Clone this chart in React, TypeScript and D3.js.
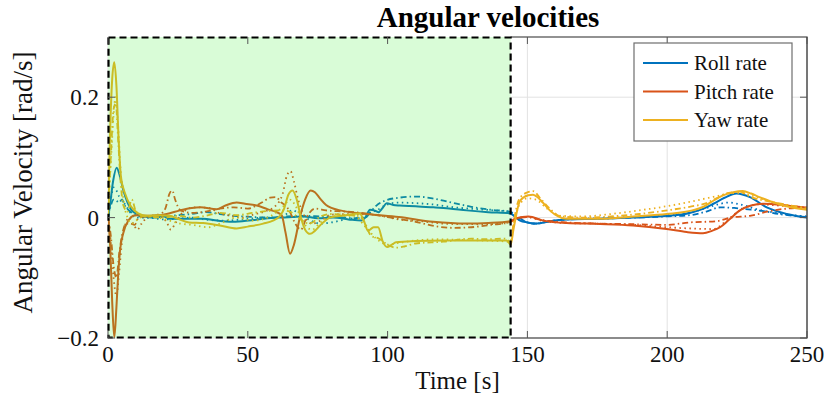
import React, { useEffect, useRef } from "react";
import * as d3 from "d3";

type Pt = [number, number];

const title = "Angular velocities";
const xAxisLabel = "Time [s]";
const yAxisLabel = "Angular Velocity [rad/s]";
const xTicks = [0, 50, 100, 150, 200, 250];
const yTicks = [-0.2, 0, 0.2];
const legendLabels = ["Roll rate", "Pitch rate", "Yaw rate"];
const shadedUntil = 144;

// roll rate, three runs
const rollSolid: Pt[] = [
  [0, 0.0], [0.7, 0.02], [1.8, 0.06], [3.1, 0.083], [4.3, 0.068], [5.5, 0.045], [7, 0.025], [8.5, 0.012],
  [10.8, 0.005], [14, 0.001], [17, 0.0], [20, 0.002], [22, -0.002], [28, -0.002], [34, -0.002], [39, -0.005],
  [43.6, -0.007], [48, -0.006], [52, -0.004], [57, -0.001], [61.5, 0.0], [66, 0.001], [70, 0.002], [75, -0.001],
  [80.5, 0.0], [86, -0.003], [90.7, -0.005], [92, 0.0], [93.7, 0.013], [95.2, 0.012], [96.7, 0.009], [98.2, 0.016],
  [99.7, 0.024], [102, 0.021], [104.4, 0.02], [110, 0.019], [116.4, 0.017], [122, 0.015], [128.3, 0.012],
  [136, 0.009], [143.8, 0.007], [145.5, 0.002], [147.4, -0.005], [150, -0.008], [153.3, -0.01], [158, -0.006],
  [164, -0.003], [176, -0.002], [188, 0.0], [200, 0.003], [205, 0.005], [209, 0.009], [213, 0.015],
  [216.5, 0.023], [220.5, 0.033], [224.8, 0.04], [229.6, 0.034], [235.6, 0.017], [242.8, 0.006], [250, 0.0],
];
const rollDashed: Pt[] = [
  [0, 0.0], [1, 0.02], [2, 0.03], [3, 0.028], [4, 0.025], [5, 0.03], [6, 0.02], [8, 0.01], [10, 0.004],
  [14, 0.0], [20, 0.002], [25, 0.004], [30, 0.006], [35, 0.009], [40, 0.006], [45, 0.003], [52, 0.001],
  [58, 0.0], [64, 0.002], [70, 0.003], [76, 0.002], [82, 0.001], [88, -0.001], [92, 0.0], [94, 0.01],
  [96, 0.02], [99, 0.028], [104, 0.033], [110, 0.035], [116, 0.032], [122, 0.026], [130, 0.018], [137, 0.013],
  [143.5, 0.01], [147, 0.0], [150, -0.008], [153, -0.01], [158, -0.006], [164, -0.003], [176, -0.002],
  [188, 0.0], [200, 0.002], [208, 0.004], [214, 0.01], [219, 0.017], [224, 0.016], [228, 0.014], [234, 0.011],
  [240, 0.006], [245, 0.003], [250, 0.001],
];
const rollDotted: Pt[] = [
  [0, 0.0], [1, 0.03], [2, 0.05], [3, 0.045], [4, 0.035], [5, 0.03], [7, 0.015], [10, 0.0], [14, 0.0],
  [20, -0.003], [25, -0.002], [30, 0.0], [36, -0.004], [42, -0.005], [48, -0.003], [55, 0.0], [62, 0.001],
  [66, 0.012], [68, 0.008], [70, 0.002], [76, -0.01], [80, -0.008], [86, -0.002], [92, 0.0], [94, 0.008],
  [96, 0.012], [100, 0.022], [104, 0.025], [110, 0.024], [116, 0.022], [124, 0.017], [132, 0.014], [138, 0.012],
  [143.5, 0.01], [147, 0.0], [150, -0.008], [153, -0.01], [158, -0.006], [164, -0.003], [176, -0.001],
  [188, 0.001], [200, 0.004], [208, 0.008], [214, 0.016], [219, 0.023], [222, 0.025], [226, 0.022],
  [232, 0.014], [240, 0.007], [250, 0.002],
];

// pitch rate, three runs
const pitchSolid: Pt[] = [
  [0, 0.005], [0.8, -0.05], [1.5, -0.14], [2.25, -0.199], [3, -0.15], [3.7, -0.09], [4.3, -0.055], [5.5, -0.025],
  [7.3, -0.005], [9, 0.003], [10.3, 0.004], [14, 0.003], [18, 0.004], [21, 0.006], [25.7, 0.012], [30, 0.016],
  [33, 0.017], [38.9, 0.014], [42, 0.02], [46, 0.025], [49, 0.023], [53.2, 0.02], [57, 0.014], [60.3, 0.009],
  [62.1, 0.004], [63.5, -0.025], [65.1, -0.06], [66.5, -0.045], [68.7, 0.002], [70.5, 0.03], [72.5, 0.045],
  [74, 0.042], [75.8, 0.032], [78, 0.021], [83, 0.012], [92.5, 0.006], [104, 0.001], [116.3, -0.007],
  [128.3, -0.01], [136, -0.009], [143.8, -0.006], [146, -0.001], [150.4, 0.002], [155.7, -0.005], [164, -0.009],
  [176, -0.0105], [187.8, -0.013], [199.8, -0.019], [207, -0.024], [212.8, -0.026], [216, -0.022],
  [218.9, -0.016], [222, -0.004], [226, 0.012], [230, 0.02], [234.3, 0.023], [242.8, 0.02], [250, 0.016],
];
const pitchDashed: Pt[] = [
  [0, 0.0], [1, -0.03], [2, -0.08], [3, -0.1], [4, -0.06], [5, -0.03], [6.5, -0.01], [8, -0.01], [9.5, -0.012],
  [11, 0.0], [14, 0.002], [18, 0.004], [20.5, 0.015], [22, 0.04], [23, 0.045], [24, 0.03], [26, 0.012],
  [30, 0.008], [35, 0.01], [40, 0.015], [45, 0.017], [50, 0.015], [55, 0.025], [58, 0.033], [60, 0.034],
  [62, 0.025], [63.5, 0.02], [65, 0.01], [67, -0.01], [69, -0.02], [71, 0.0], [74, 0.015], [78, 0.012],
  [85, 0.01], [92, 0.007], [100, 0.001], [110, -0.007], [118, -0.015], [124, -0.017], [130, -0.016],
  [137, -0.012], [143.5, -0.008], [146, -0.002], [150, 0.001], [155, -0.004], [164, -0.008], [176, -0.01],
  [188, -0.011], [200, -0.012], [208, -0.008], [217.7, -0.006], [222.6, 0.0], [229.6, 0.003], [238, 0.012],
  [250, 0.017],
];
const pitchDotted: Pt[] = [
  [0, 0.0], [1, -0.04], [2, -0.1], [3, -0.13], [4, -0.09], [5, -0.04], [6, -0.015], [7.5, 0.0], [9, -0.01],
  [10.5, -0.02], [12, -0.01], [14, 0.0], [18, 0.005], [21, -0.008], [22.5, -0.02], [24, -0.01], [27, 0.01],
  [31, 0.017], [36, 0.016], [40, 0.007], [44, 0.003], [48, 0.0], [52, 0.005], [56, 0.01], [60, 0.02],
  [62.5, 0.04], [64, 0.07], [65.3, 0.077], [66.5, 0.06], [68, 0.03], [70, 0.005], [73, -0.01], [76, -0.005],
  [80, 0.005], [88, 0.006], [95, 0.005], [104, -0.003], [112, -0.006], [120, -0.01], [128, -0.011],
  [136, -0.011], [143.5, -0.008], [146, -0.001], [150, 0.001], [155, -0.005], [164, -0.009], [176, -0.01],
  [188, -0.012], [200, -0.016], [208, -0.018], [216.5, -0.019], [221, -0.006], [226, 0.012], [233, 0.022],
  [240, 0.02], [250, 0.017],
];

// yaw rate, three runs
const yawSolid: Pt[] = [
  [0, 0.0], [0.8, 0.15], [1.5, 0.23], [2.25, 0.258], [3, 0.22], [3.8, 0.13], [4.65, 0.067], [6.1, 0.04],
  [8, 0.02], [10.8, 0.007], [14, 0.003], [18, 0.004], [22, 0.003], [25, -0.002], [29, -0.008], [34, -0.009],
  [40, -0.013], [46, -0.018], [50, -0.015], [55.5, -0.01], [59, -0.005], [61.5, 0.003], [63, 0.015],
  [64.5, 0.038], [66, 0.045], [67.5, 0.03], [69, 0.0], [70.5, -0.02], [72.3, -0.027], [74, -0.022],
  [76.5, -0.01], [79.4, 0.0], [85, 0.004], [90, 0.007], [91.5, -0.005], [93, -0.022], [95, -0.016],
  [96.6, -0.016], [98.3, -0.04], [99.8, -0.049], [101.5, -0.045], [103, -0.041], [110, -0.039], [120, -0.038],
  [130, -0.038], [138, -0.038], [142.6, -0.038], [144, -0.045], [145, -0.02], [147.4, 0.028], [150.3, 0.037],
  [152, 0.038], [153.3, 0.035], [155.5, 0.025], [158, 0.012], [161, 0.002], [164, -0.002], [176, -0.002],
  [187.8, 0.002], [199.8, 0.006], [209, 0.012], [213, 0.018], [216.5, 0.028], [220, 0.037], [223.6, 0.042],
  [227, 0.044], [230, 0.04], [233, 0.034], [237, 0.027], [241.5, 0.02], [250, 0.013],
];
const yawDashed: Pt[] = [
  [0, 0.0], [1, 0.1], [2, 0.18], [2.8, 0.19], [3.5, 0.14], [4.5, 0.06], [5.5, 0.02], [7, 0.01], [8.5, 0.03],
  [10, 0.01], [12, 0.003], [14, 0.002], [20, 0.0], [25, 0.003], [30, 0.0], [35, 0.003], [40, 0.008], [46, 0.004],
  [52, 0.008], [57, 0.011], [62, 0.012], [65, 0.01], [68, 0.0], [72, -0.01], [76, 0.002], [80, 0.006],
  [86, 0.004], [90, 0.002], [92, -0.01], [94, -0.03], [97, -0.035], [100, -0.045], [103, -0.05], [106, -0.048],
  [110, -0.043], [120, -0.04], [130, -0.035], [136, -0.036], [142, -0.035], [144, -0.04], [145, -0.01],
  [147, 0.03], [150, 0.042], [152, 0.044], [155, 0.03], [158, 0.015], [162, 0.002], [170, 0.0], [180, 0.002],
  [190, 0.006], [200, 0.012], [208, 0.018], [214, 0.024], [218, 0.033], [222, 0.041], [226, 0.043],
  [230, 0.034], [235, 0.028], [242, 0.022], [250, 0.015],
];
const yawDotted: Pt[] = [
  [0, 0.0], [1, 0.09], [2, 0.17], [2.7, 0.2], [3.5, 0.16], [4.5, 0.08], [5.5, 0.03], [7, 0.0], [8.5, -0.01],
  [10, -0.005], [13, 0.002], [18, 0.0], [22, -0.005], [26, -0.01], [30, -0.012], [36, -0.016], [40, -0.01],
  [46, 0.0], [52, -0.005], [56, -0.002], [60, 0.008], [63, 0.02], [65, 0.03], [67, 0.02], [69, 0.0],
  [71, -0.015], [73, -0.02], [76, -0.008], [80, 0.002], [88, 0.003], [92, -0.015], [96, -0.035], [100, -0.045],
  [104, -0.042], [110, -0.038], [118, -0.036], [126, -0.037], [134, -0.038], [140, -0.039], [144, -0.04],
  [145, -0.015], [147, 0.02], [150, 0.032], [153, 0.03], [157, 0.015], [162, 0.003], [170, 0.002],
  [180, 0.006], [190, 0.012], [200, 0.019], [208, 0.026], [214, 0.032], [218, 0.036], [222, 0.04],
  [226, 0.041], [230, 0.037], [236, 0.028], [244, 0.02], [250, 0.016],
];

const colors = ["#0072BD", "#D95319", "#EDB120"];
const channels: Pt[][][] = [
  [rollSolid, rollDashed, rollDotted],
  [pitchSolid, pitchDashed, pitchDotted],
  [yawSolid, yawDashed, yawDotted],
];
const dashes = [null, "6,3,1.5,3", "1.5,3.5"];

const App = () => {
  const svgRef = useRef<SVGSVGElement>(null);
  const svgWidth = 830;
  const svgHeight = 398;

  useEffect(() => {
    const margin = { top: 37, right: 23, bottom: 60, left: 108 };
    const innerWidth = svgWidth - margin.left - margin.right;
    const innerHeight = svgHeight - margin.top - margin.bottom;
    const font = "'Liberation Serif', 'DejaVu Serif', serif";

    const svg = d3.select(svgRef.current);
    svg.selectAll("*").remove();

    const xScale = d3.scaleLinear().domain([0, 250]).range([0, innerWidth]);
    const yScale = d3.scaleLinear().domain([-0.2, 0.3]).range([innerHeight, 0]);

    svg.append("defs").append("clipPath").attr("id", "plot-clip")
      .append("rect").attr("width", innerWidth).attr("height", innerHeight);

    const g = svg.append("g").attr("transform", `translate(${margin.left},${margin.top})`);

    // grid
    g.selectAll(".gx").data(xTicks).enter().append("line")
      .attr("x1", (d) => xScale(d)).attr("x2", (d) => xScale(d))
      .attr("y1", 0).attr("y2", innerHeight)
      .attr("stroke", "#e2e2e2").attr("stroke-width", 1);
    g.selectAll(".gy").data(yTicks).enter().append("line")
      .attr("y1", (d) => yScale(d)).attr("y2", (d) => yScale(d))
      .attr("x1", 0).attr("x2", innerWidth)
      .attr("stroke", "#e2e2e2").attr("stroke-width", 1);

    // shaded region hides the grid
    const shadeW = xScale(shadedUntil);
    g.append("rect").attr("width", shadeW).attr("height", innerHeight).attr("fill", "#fff");

    const line = d3.line<Pt>()
      .x((d) => xScale(d[0]))
      .y((d) => yScale(d[1]))
      .curve(d3.curveMonotoneX);

    const lines = g.append("g").attr("clip-path", "url(#plot-clip)");
    channels.forEach((runs, ci) => {
      [2, 1, 0].forEach((ri) => {
        lines.append("path")
          .attr("d", line(runs[ri]))
          .attr("fill", "none")
          .attr("stroke", colors[ci])
          .attr("stroke-width", ri === 0 ? 2 : 1.8)
          .attr("stroke-dasharray", dashes[ri])
          .attr("stroke-linejoin", "round");
      });
    });

    // green overlay
    g.append("rect").attr("width", shadeW).attr("height", innerHeight)
      .attr("fill", "rgb(65,240,55)").attr("fill-opacity", 0.2);

    // axis box outside of shaded region
    g.append("path")
      .attr("d", `M${shadeW},0H${innerWidth}V${innerHeight}H${shadeW}`)
      .attr("fill", "none").attr("stroke", "#262626").attr("stroke-width", 1.2);

    g.append("rect").attr("x", 0.5).attr("y", 0.5)
      .attr("width", shadeW - 0.5).attr("height", innerHeight - 1)
      .attr("fill", "none").attr("stroke", "#000").attr("stroke-width", 2.2)
      .attr("stroke-dasharray", "7,4");

    // ticks
    const tl = 7;
    xTicks.forEach((t) => {
      const x = xScale(t);
      g.append("line").attr("x1", x).attr("x2", x).attr("y1", innerHeight).attr("y2", innerHeight - tl)
        .attr("stroke", "#555");
      g.append("line").attr("x1", x).attr("x2", x).attr("y1", 0).attr("y2", tl).attr("stroke", "#555");
    });
    yTicks.forEach((t) => {
      const y = yScale(t);
      g.append("line").attr("x1", 0).attr("x2", tl).attr("y1", y).attr("y2", y).attr("stroke", "#555");
      g.append("line").attr("x1", innerWidth).attr("x2", innerWidth - tl).attr("y1", y).attr("y2", y)
        .attr("stroke", "#555");
    });

    g.selectAll(".xl").data(xTicks).enter().append("text")
      .attr("x", (d) => xScale(d)).attr("y", innerHeight + 24)
      .attr("text-anchor", "middle").attr("font-family", font).attr("font-size", 23)
      .attr("fill", "#111").text((d) => String(d));
    g.selectAll(".yl").data(yTicks).enter().append("text")
      .attr("x", -9).attr("y", (d) => yScale(d) + 8)
      .attr("text-anchor", "end").attr("font-family", font).attr("font-size", 23)
      .attr("fill", "#111").text((d) => (d === 0 ? "0" : d3.format(".1f")(d).replace("-", "\u2212")));

    g.append("text").attr("x", innerWidth / 2).attr("y", innerHeight + 51)
      .attr("text-anchor", "middle").attr("font-family", font).attr("font-size", 25)
      .attr("fill", "#111").text(xAxisLabel);
    g.append("text").attr("transform", "rotate(-90)")
      .attr("x", -innerHeight / 2 + 5).attr("y", -76)
      .attr("text-anchor", "middle").attr("font-family", font).attr("font-size", 27)
      .attr("fill", "#111").text(yAxisLabel);
    svg.append("text").attr("x", 488).attr("y", 27)
      .attr("text-anchor", "middle").attr("font-family", font).attr("font-size", 29)
      .attr("font-weight", "bold").attr("fill", "#000").text(title);

    // legend
    const lg = svg.append("g").attr("transform", "translate(634,43)");
    lg.append("rect").attr("width", 158).attr("height", 98)
      .attr("fill", "#fff").attr("stroke", "#6e6e6e").attr("stroke-width", 1.2);
    legendLabels.forEach((lab, i) => {
      const y = 20 + i * 28.5;
      lg.append("line").attr("x1", 9).attr("x2", 54).attr("y1", y).attr("y2", y)
        .attr("stroke", colors[i]).attr("stroke-width", 1.8);
      lg.append("text").attr("x", 60).attr("y", y + 7).attr("font-family", font)
        .attr("font-size", 21).attr("fill", "#111").text(lab);
    });
  }, []);

  return (
    <svg
      ref={svgRef}
      width={svgWidth}
      height={svgHeight}
      style={{ position: "absolute", left: 0, top: 0, background: "#fff" }}
    ></svg>
  );
};

export default App;
